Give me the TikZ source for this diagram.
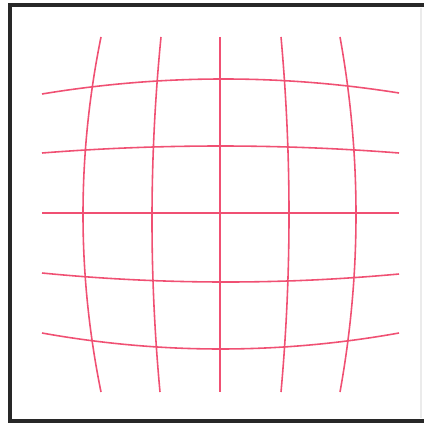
\documentclass[tikz,border=0pt]{standalone}
\definecolor{gridred}{RGB}{240,80,115}
\definecolor{framegray}{RGB}{40,40,40}
\begin{document}
\begin{tikzpicture}[x=0.02cm,y=-0.02cm,
  gridline/.style={draw=gridred,line width=0.9pt},
  framestyle/.style={draw=framegray,line width=2.6pt}]
\useasboundingbox (0,0) rectangle (424,425);
\fill[white] (0,0) rectangle (424,425);
% frame
\draw[framestyle] (424,5) -- (10,5) -- (10,421) -- (424,421);
\draw[draw=black!8,line width=1pt] (421,8) -- (421,418);
% vertical lines
\draw[gridline] (101,37) .. controls (77,155.33) and (77,273.67) .. (101,392);
\draw[gridline] (161,37) .. controls (149.33,155.33) and (149,273.67) .. (160,392);
\draw[gridline] (220,37) -- (220,392);
\draw[gridline] (281,37) .. controls (291.67,155.33) and (291.67,273.67) .. (281,392);
\draw[gridline] (340,37) .. controls (361.33,155.33) and (361.33,273.67) .. (340,392);
% horizontal lines
\draw[gridline] (42,94) .. controls (161,74.33) and (280,74) .. (399,93);
\draw[gridline] (42,153) .. controls (161,143.67) and (280,143.67) .. (399,153);
\draw[gridline] (42,213) -- (399,213);
\draw[gridline] (42,273) .. controls (161,284.67) and (280,285) .. (399,274);
\draw[gridline] (42,333) .. controls (161,354.33) and (280,354.33) .. (399,333);
\end{tikzpicture}
\end{document}
